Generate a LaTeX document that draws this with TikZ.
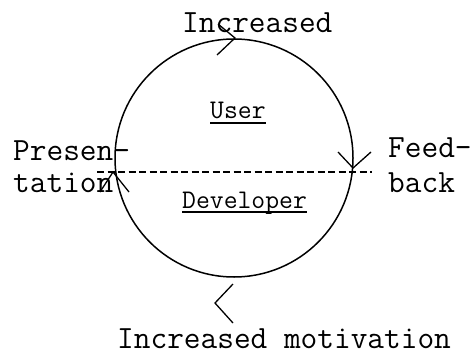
\documentclass[tikz,border=0pt]{standalone}
\usetikzlibrary{calc}
\begin{document}
\begin{tikzpicture}[x=1pt,y=1pt,
  bigtxt/.style={font=\fontsize{32.4}{36}\selectfont\ttfamily, inner sep=0pt, anchor=base west},
  smalltxt/.style={font=\fontsize{26.9}{30}\selectfont\ttfamily, inner sep=0pt, anchor=base west},
  ln/.style={line width=1.5pt, black},
  chev/.style={line width=1.3pt, black, line join=miter},
  uline/.style={line width=1.4pt, black}]
\useasboundingbox (0,0) rectangle (474,-356);
% cycle
\node[ln, draw, circle, minimum size=238pt, inner sep=0pt] (cyc) at (234,-158) {};
% texts
\node[bigtxt] (inc) at (182,-32) {Increased};
\node[bigtxt] (pres1) at (13,-160) {Presen-};
\node[bigtxt] (pres2) at (13,-192) {tation};
\node[bigtxt] (feed1) at (388,-157) {Feed-};
\node[bigtxt] (feed2) at (388,-192) {back};
\node[bigtxt] (mot) at (117,-348) {Increased motivation};
\node[smalltxt] (usr) at (210,-118) {User};
\node[smalltxt] (dev) at (182,-208) {Developer};
\draw[uline] ([yshift=-5pt]usr.base west) -- ([yshift=-5pt]usr.base east);
\draw[uline] ([yshift=-4pt]dev.base west) -- ([yshift=-4pt]dev.base east);
% dashed divider
\coordinate (dl) at (97,-172);
\coordinate (dr) at (372,-172);
\draw[line width=1.3pt, dash pattern=on 7pt off 3.5pt] (dl) -- (dr);
% chevrons on the cycle
\coordinate (ttip) at (235,-38);
\draw[chev] ($(ttip)+(-17,14)$) -- (ttip) -- ($(ttip)+(-18,-17)$);
\coordinate (rtip) at (353,-168);
\draw[chev] ($(rtip)+(-15,16)$) -- (rtip) -- ($(rtip)+(18,16)$);
\coordinate (ltip) at (113,-172);
\draw[chev] ($(ltip)+(-13,-20)$) -- (ltip) -- ($(ltip)+(16,-20)$);
\coordinate (btip) at (215,-303);
\draw[chev] ($(btip)+(18,19)$) -- (btip) -- ($(btip)+(18,-20)$);
\end{tikzpicture}
\end{document}
